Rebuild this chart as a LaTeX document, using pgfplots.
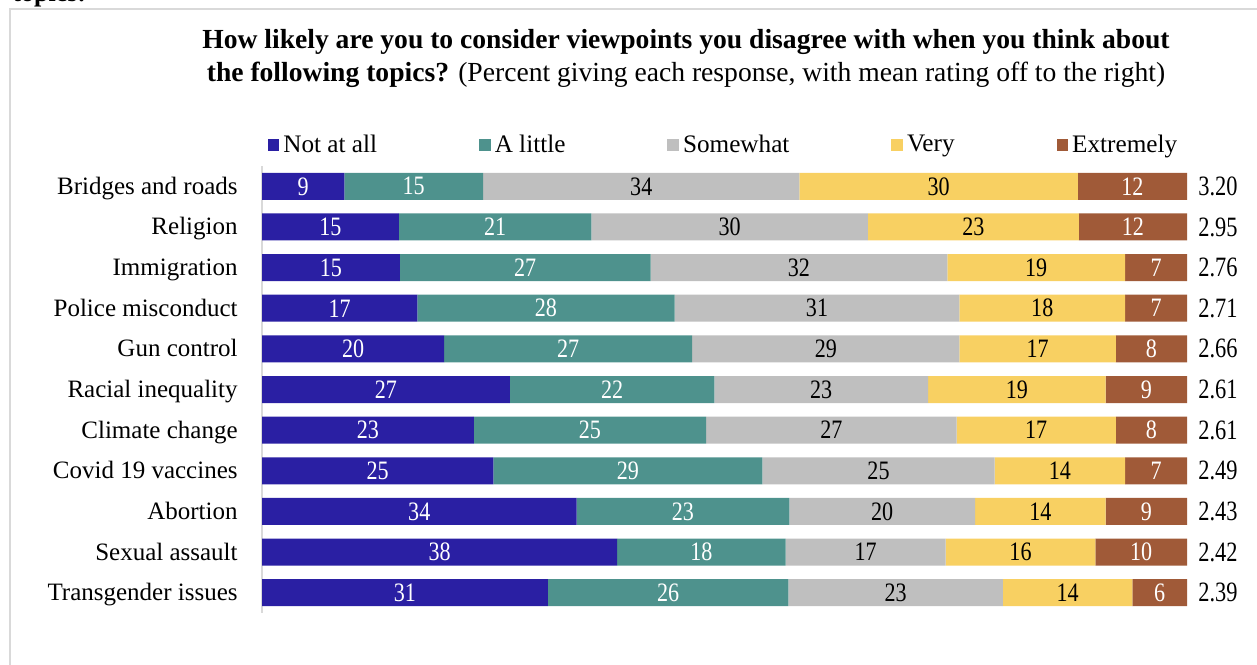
\documentclass[border=0pt]{standalone}
\usepackage{fontspec}
\setmainfont{Liberation Serif}
\usepackage{graphicx}
\usepackage{pgfplots}
\pgfplotsset{compat=1.18}
\usepackage{pgfplotstable}

\definecolor{notatall}{HTML}{2A1FA3}
\definecolor{alittle}{HTML}{4E928D}
\definecolor{somewhat}{HTML}{BFBFBF}
\definecolor{very}{HTML}{F8D062}
\definecolor{extremely}{HTML}{A05A38}
\definecolor{framegray}{HTML}{D9D9D9}

% share giving each response
\pgfplotstableread{
idx a    b    c    d    e
0   8.9  15.0 34.2 30.1 11.8
1   14.8 20.8 29.9 22.8 11.7
2   14.9 27.1 32.1 19.2 6.7
3   16.8 27.8 30.8 17.9 6.7
4   19.7 26.8 28.9 16.9 7.7
5   26.8 22.1 23.1 19.2 8.8
6   22.9 25.1 27.1 17.2 7.7
7   25.0 29.1 25.1 14.1 6.7
8   34.0 23.0 20.1 14.1 8.8
9   38.4 18.2 17.3 16.2 9.9
10  30.9 26.0 23.2 14.0 5.9
}\responses

\begin{document}
\begin{tikzpicture}
\useasboundingbox (0,0) rectangle (628.5pt,-332pt);
\draw[framegray, line width=0.8pt] (5pt,-340pt) -- (5pt,-4.5pt) -- (640pt,-4.5pt);
\node[anchor=base west, inner sep=0pt, font=\bfseries\fontsize{13}{15}\selectfont] at (6pt,-0.8pt) {topics:};
\node[align=center, font=\fontsize{13.8}{16.5}\selectfont] at (343pt,-29.25pt)
  {\bfseries How likely are you to consider viewpoints you disagree with when you think about\\
   \bfseries the following topics? \mdseries(Percent giving each response, with mean rating off to the right)};

\begin{axis}[
  at={(131pt,-83pt)}, anchor=north west,
  scale only axis, width=462.5pt, height=223.5pt,
  clip=false,
  xbar stacked, bar width=13.5pt,
  xmin=0, xmax=100, ymin=-0.5, ymax=10.5, y dir=reverse,
  axis x line=none, axis y line*=left,
  axis line style={draw=framegray, line width=0.8pt, -},
  xtick=\empty, ytick={0,...,10}, major tick length=0pt,
  yticklabels={Bridges and roads, Religion, Immigration, Police misconduct,
    Gun control, Racial inequality, Climate change, Covid 19 vaccines,
    Abortion, Sexual assault, Transgender issues},
  yticklabel style={font=\fontsize{12.5}{15}\selectfont, inner sep=0pt,
    text height=8pt, text depth=0pt, xshift=-12pt},
  nodes near coords={\scalebox{0.83}[1]{\pgfmathprintnumber[fixed,precision=0,assume math mode=true]{\pgfplotspointmeta}}},
  every node near coord/.append style={anchor=center, inner sep=0pt,
    font=\fontsize{13.3}{15}\selectfont},
  legend columns=5,
  legend style={at={(0.5,1.047)}, anchor=center, draw=none, fill=none,
    font=\fontsize{12.6}{15}\selectfont, inner sep=0pt,
    /tikz/every even column/.append style={column sep=49pt}},
  legend image code/.code={\fill[#1] (0pt,-2.9pt) rectangle (5.8pt,2.9pt);},
]
\addplot[fill=notatall, draw=none, nodes near coords style={text=white}] table[x=a, y=idx] {\responses};
\addplot[fill=alittle, draw=none, nodes near coords style={text=white}] table[x=b, y=idx] {\responses};
\addplot[fill=somewhat, draw=none, nodes near coords style={text=black}] table[x=c, y=idx] {\responses};
\addplot[fill=very, draw=none, nodes near coords style={text=black}] table[x=d, y=idx] {\responses};
\addplot[fill=extremely, draw=none, nodes near coords style={text=white}] table[x=e, y=idx] {\responses};
\legend{Not at all, A little, Somewhat, Very, Extremely}

\foreach \m [count=\i from 0] in {3.20,2.95,2.76,2.71,2.66,2.61,2.61,2.49,2.43,2.42,2.39}{
  \edef\temp{\noexpand\node[anchor=west, inner sep=0pt, xshift=5.5pt,
    font=\noexpand\fontsize{14}{16}\noexpand\selectfont] at (axis cs:100,\i)
    {\noexpand\scalebox{0.8}[1]{\m}};}
  \temp
}
\end{axis}
\end{tikzpicture}
\end{document}
